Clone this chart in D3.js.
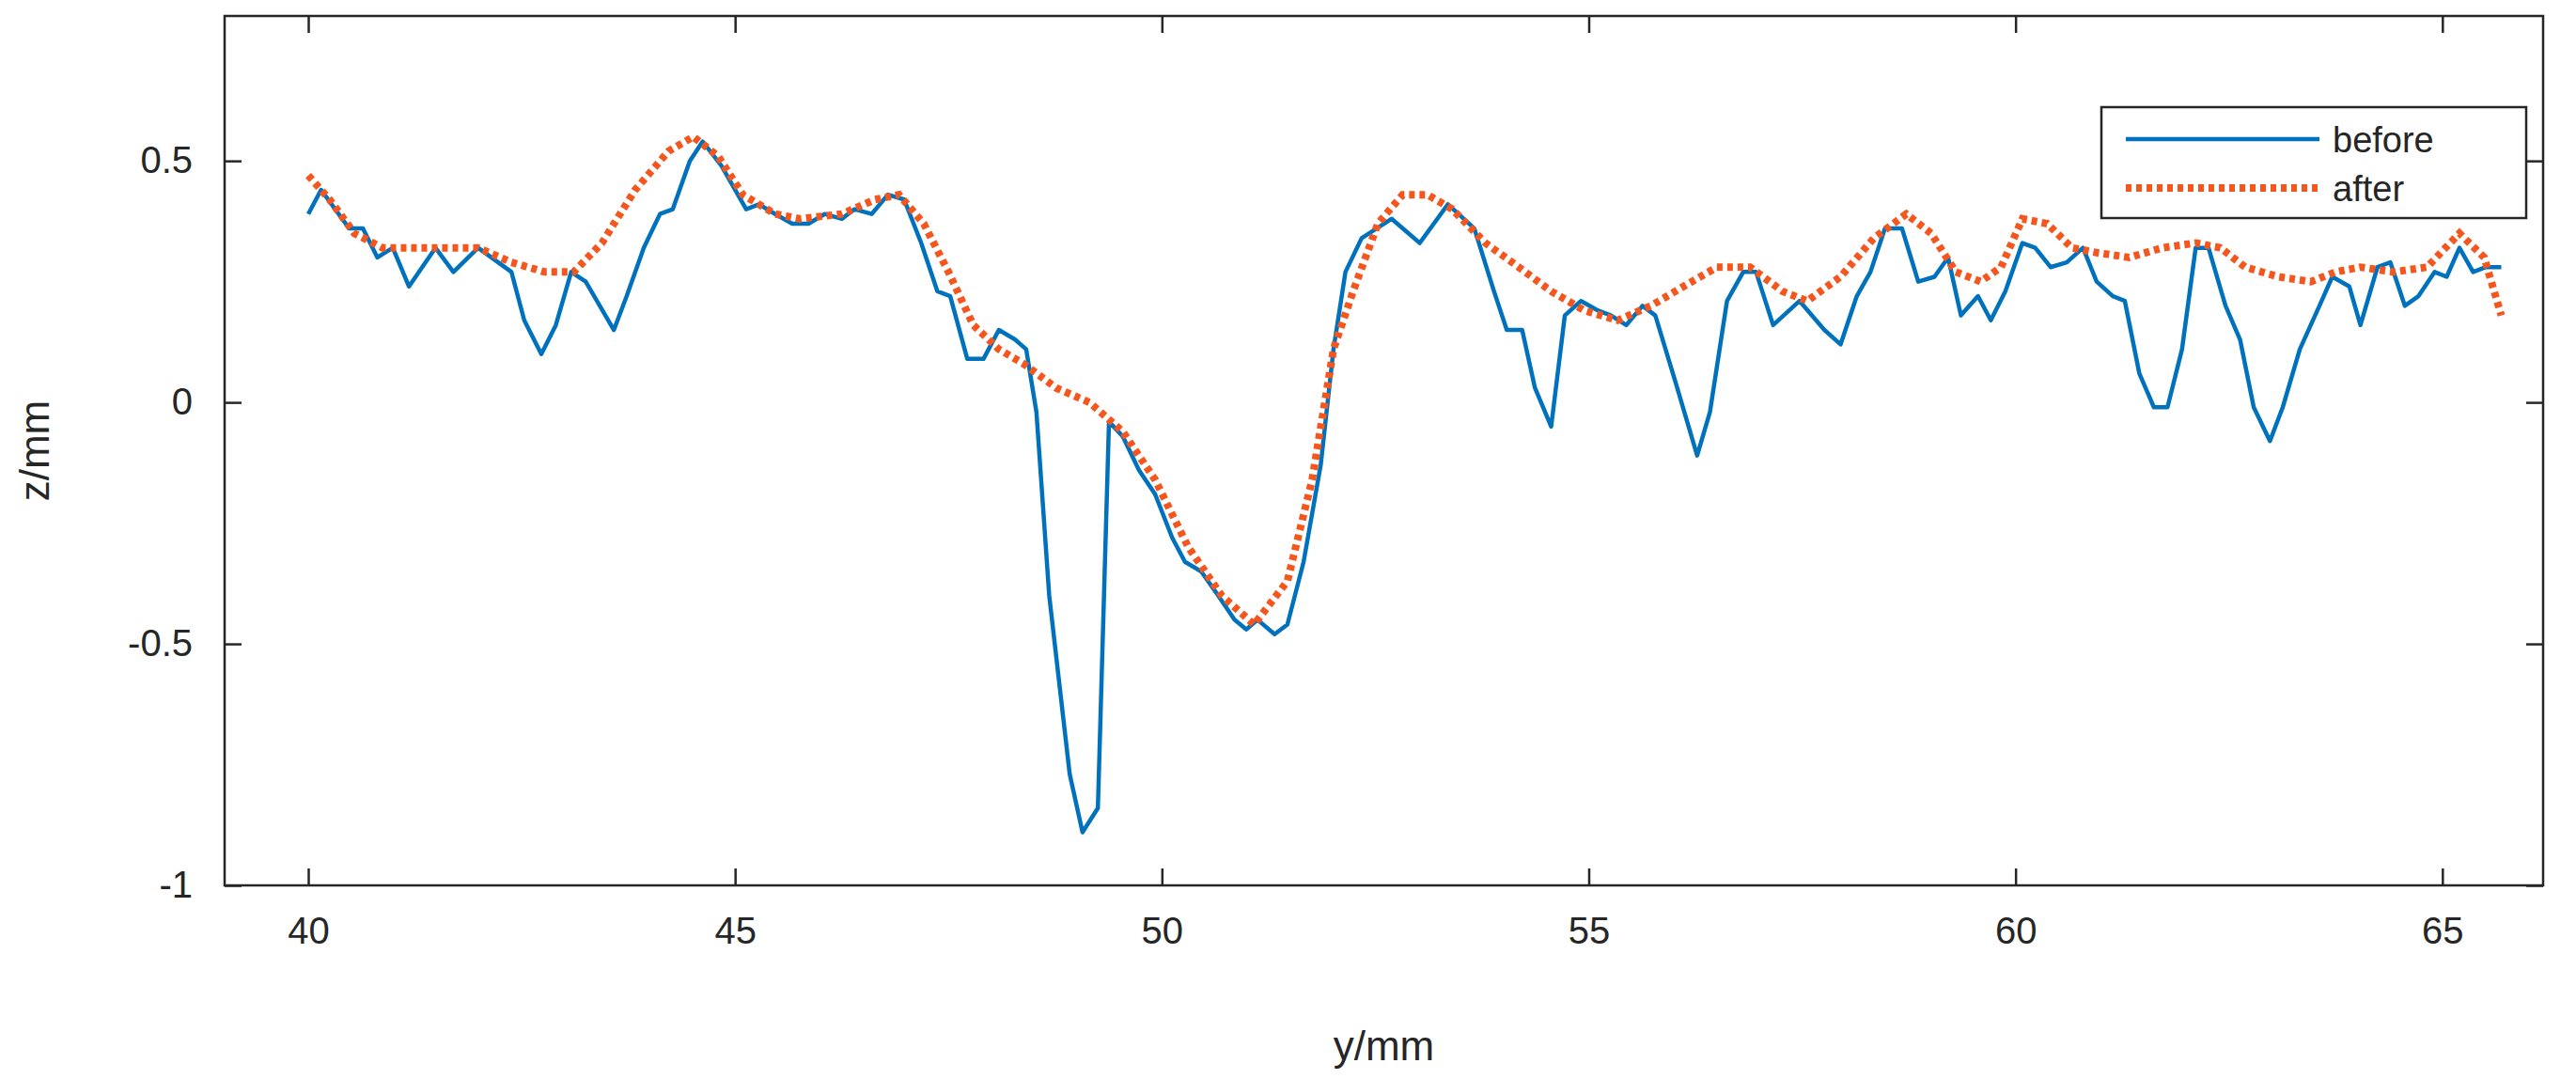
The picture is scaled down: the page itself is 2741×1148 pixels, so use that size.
<!DOCTYPE html><html><head><meta charset="utf-8"><script src="https://cdn.jsdelivr.net/npm/d3@7"></script>
<style>body{margin:0;background:#fff}text{font-family:Arial,"Liberation Sans",sans-serif}</style></head><body><svg id="c" width="2741" height="1148"></svg><script>
const beforeX=[40.00,40.15,40.48,40.64,40.81,40.99,41.18,41.49,41.70,41.99,42.38,42.53,42.73,42.90,43.08,43.25,43.58,43.73,43.93,44.12,44.27,44.47,44.62,44.84,45.13,45.28,45.47,45.67,45.86,46.05,46.25,46.40,46.60,46.79,46.98,47.18,47.37,47.52,47.72,47.91,48.09,48.28,48.41,48.53,48.68,48.92,49.07,49.25,49.38,49.54,49.73,49.92,50.12,50.27,50.46,50.66,50.85,50.99,51.12,51.32,51.47,51.66,51.86,52.01,52.15,52.34,52.69,53.02,53.35,53.66,53.89,54.04,54.22,54.37,54.56,54.72,54.91,55.11,55.26,55.44,55.63,55.78,56.02,56.27,56.42,56.62,56.81,56.96,57.16,57.47,57.76,57.95,58.14,58.30,58.47,58.67,58.86,59.05,59.21,59.36,59.56,59.71,59.88,60.08,60.23,60.41,60.60,60.79,60.95,61.14,61.28,61.45,61.62,61.78,61.95,62.11,62.26,62.46,62.63,62.79,62.98,63.13,63.33,63.56,63.71,63.91,64.04,64.24,64.39,64.56,64.72,64.91,65.05,65.20,65.36,65.51,65.69];
const beforeZ=[0.39,0.44,0.36,0.36,0.30,0.32,0.24,0.32,0.27,0.32,0.27,0.17,0.10,0.16,0.27,0.25,0.15,0.22,0.32,0.39,0.40,0.50,0.54,0.49,0.40,0.41,0.39,0.37,0.37,0.39,0.38,0.40,0.39,0.43,0.42,0.33,0.23,0.22,0.09,0.09,0.15,0.13,0.11,-0.02,-0.40,-0.77,-0.89,-0.84,-0.04,-0.07,-0.14,-0.19,-0.28,-0.33,-0.35,-0.40,-0.45,-0.47,-0.45,-0.48,-0.46,-0.33,-0.13,0.11,0.27,0.34,0.38,0.33,0.41,0.36,0.23,0.15,0.15,0.03,-0.05,0.18,0.21,0.19,0.18,0.16,0.20,0.18,0.04,-0.11,-0.02,0.21,0.27,0.27,0.16,0.21,0.15,0.12,0.22,0.27,0.36,0.36,0.25,0.26,0.30,0.18,0.22,0.17,0.23,0.33,0.32,0.28,0.29,0.32,0.25,0.22,0.21,0.06,-0.01,-0.01,0.11,0.32,0.32,0.20,0.13,-0.01,-0.08,-0.01,0.11,0.20,0.26,0.24,0.16,0.28,0.29,0.20,0.22,0.27,0.26,0.32,0.27,0.28,0.28];
const afterX=[40.00,40.25,40.54,40.87,41.41,41.99,42.38,42.77,43.11,43.44,43.83,44.22,44.51,44.80,45.09,45.47,45.76,46.25,46.64,46.92,47.21,47.50,47.79,48.09,48.38,48.76,49.15,49.54,49.92,50.31,50.70,51.08,51.47,51.76,52.01,52.24,52.53,52.82,53.11,53.40,53.79,54.18,54.56,54.95,55.34,55.73,56.11,56.50,56.89,57.27,57.56,57.95,58.34,58.72,59.01,59.30,59.59,59.83,60.08,60.37,60.66,60.95,61.33,61.72,62.11,62.40,62.69,63.08,63.46,63.75,64.04,64.43,64.82,65.20,65.49,65.69];
const afterZ=[0.47,0.42,0.35,0.32,0.32,0.32,0.29,0.27,0.27,0.33,0.44,0.52,0.55,0.51,0.43,0.39,0.38,0.39,0.42,0.43,0.37,0.27,0.16,0.11,0.08,0.03,0.00,-0.06,-0.16,-0.30,-0.40,-0.46,-0.37,-0.16,0.11,0.23,0.37,0.43,0.43,0.40,0.33,0.28,0.23,0.19,0.17,0.20,0.24,0.28,0.28,0.23,0.21,0.26,0.34,0.39,0.35,0.27,0.25,0.28,0.38,0.37,0.32,0.31,0.30,0.32,0.33,0.32,0.28,0.26,0.25,0.27,0.28,0.27,0.28,0.35,0.30,0.18];
const xTicks=[40,45,50,55,60,65];
const yTicks=[-1,-0.5,0,0.5];
const yTickLabels=["-1","-0.5","0","0.5"];
const legendLabels=["before","after"];
const svg=d3.select("#c");
const L=239,R=2706,T=17,B=942;
const x=d3.scaleLinear().domain([39.02,66.18]).range([L,R]);
const y=d3.scaleLinear().domain([-1,0.8]).range([B,T]);
const tl=18;
function axisStyle(g){g.select(".domain").remove();g.selectAll(".tick line").attr("stroke","#262626").attr("stroke-width",2.5);g.selectAll("text").attr("font-size",40).attr("fill","#262626");}
svg.append("g").attr("transform",`translate(0,${B})`).call(d3.axisBottom(x).tickValues(xTicks).tickSize(-tl).tickPadding(34)).call(axisStyle);
svg.append("g").attr("transform",`translate(0,${T})`).call(d3.axisTop(x).tickValues(xTicks).tickSize(-tl).tickFormat("")).call(axisStyle);
svg.append("g").attr("transform",`translate(${L},0)`).call(d3.axisLeft(y).tickValues(yTicks).tickSize(-tl).tickPadding(34).tickFormat((d,i)=>yTickLabels[i])).call(axisStyle);
svg.append("g").attr("transform",`translate(${R},0)`).call(d3.axisRight(y).tickValues(yTicks).tickSize(-tl).tickFormat("")).call(axisStyle);
svg.append("rect").attr("x",L).attr("y",T).attr("width",R-L).attr("height",B-T).attr("fill","none").attr("stroke","#262626").attr("stroke-width",2.5);
const line=d3.line().x(d=>x(d[0])).y(d=>y(d[1]));
svg.append("path").datum(beforeX.map((v,i)=>[v,beforeZ[i]])).attr("d",line).attr("fill","none").attr("stroke","#0072BD").attr("stroke-width",4.5).attr("stroke-linejoin","round");
svg.append("path").datum(afterX.map((v,i)=>[v,afterZ[i]])).attr("d",line).attr("fill","none").attr("stroke","#F4561D").attr("stroke-width",8).attr("stroke-dasharray","6,5");
svg.append("text").attr("x",(L+R)/2).attr("y",1128).attr("text-anchor","middle").attr("font-size",44).attr("fill","#262626").text("y/mm");
svg.append("text").attr("transform",`translate(52,${(T+B)/2}) rotate(-90)`).attr("text-anchor","middle").attr("font-size",44).attr("fill","#262626").text("z/mm");
const lg=svg.append("g");
lg.append("rect").attr("x",2236).attr("y",114).attr("width",452).attr("height",118).attr("fill","#fff").attr("stroke","#262626").attr("stroke-width",2.5);
lg.append("line").attr("x1",2262).attr("x2",2468).attr("y1",148).attr("y2",148).attr("stroke","#0072BD").attr("stroke-width",4.5);
lg.append("line").attr("x1",2262).attr("x2",2468).attr("y1",200).attr("y2",200).attr("stroke","#F4561D").attr("stroke-width",8).attr("stroke-dasharray","6,5");
lg.selectAll("text.l").data(legendLabels).enter().append("text").attr("x",2482).attr("y",(d,i)=>162+i*52).attr("font-size",38).attr("fill","#262626").text(d=>d);
</script></body></html>
